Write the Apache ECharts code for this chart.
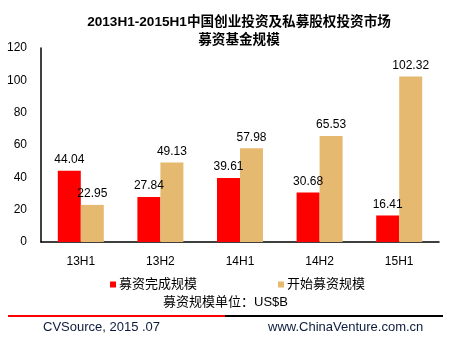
<!DOCTYPE html>
<html><head><meta charset="utf-8">
<script src="https://cdn.jsdelivr.net/npm/echarts@6/dist/echarts.min.js"></script>
<style>html,body{margin:0;padding:0;background:#fff}#c{width:451px;height:340px}</style>
</head><body><div id="c"></div>
<script>
const categories = ['13H1','13H2','14H1','14H2','15H1'];
const completed = [44.04, 27.84, 39.61, 30.68, 16.41];
const started = [22.95, 49.13, 57.98, 65.53, 102.32];
const seriesNames = ['募资完成规模','开始募资规模'];
const yTicks = [0, 20, 40, 60, 80, 100, 120];

const FONT = 'Arial, "Liberation Sans", "Noto Sans CJK SC", sans-serif';
const chart = echarts.init(document.getElementById('c'));
chart.setOption({
  backgroundColor: '#fff',
  animation: false,
  title: {
    text: '2013H1-2015H1中国创业投资及私募股权投资市场\n募资基金规模',
    left: 234, top: 8, textAlign: 'center',
    textStyle: { fontFamily: FONT, fontWeight: 'bold', fontSize: 13.6, lineHeight: 18, color: '#000' }
  },
  legend: [
    { data: [seriesNames[0]], left: 105, top: 273, icon: 'rect', itemWidth: 6, itemHeight: 6, itemGap: 3,
      textStyle: { fontFamily: FONT, fontSize: 13, color: '#000', padding: [0,0,0,-2] } },
    { data: [seriesNames[1]], left: 273, top: 273, icon: 'rect', itemWidth: 6, itemHeight: 6, itemGap: 3,
      textStyle: { fontFamily: FONT, fontSize: 13, color: '#000', padding: [0,0,0,-2] } }
  ],
  grid: { left: 41, right: 12, top: 48, bottom: 98, containLabel: false },
  xAxis: {
    type: 'category', data: categories,
    axisLine: { lineStyle: { color: '#000', width: 1.5 } },
    axisTick: { show: false },
    axisLabel: { fontFamily: FONT, fontSize: 12, color: '#000', margin: 14 }
  },
  yAxis: {
    type: 'value', min: yTicks[0], max: yTicks[yTicks.length-1], interval: 20,
    axisLine: { show: true, lineStyle: { color: '#000', width: 1.5 } },
    axisTick: { show: false },
    splitLine: { show: false },
    axisLabel: { fontFamily: FONT, fontSize: 12, color: '#000', margin: 14 }
  },
  series: [
    { name: seriesNames[0], type: 'bar', data: completed, barWidth: 23, barGap: '0%',
      itemStyle: { color: '#FF0000' },
      label: { show: true, position: 'top', distance: 5, fontFamily: FONT, fontSize: 12, color: '#000', formatter: p => p.value.toFixed(2) } },
    { name: seriesNames[1], type: 'bar', data: started, barWidth: 23, barGap: '0%',
      itemStyle: { color: '#E5B96F' },
      label: { show: true, position: 'top', distance: 5, fontFamily: FONT, fontSize: 12, color: '#000', formatter: p => p.value.toFixed(2) } }
  ],
  graphic: [
    { type: 'text', left: 'center', top: 296, style: { text: '募资规模单位：US$B', font: '13px ' + FONT, fill: '#000' } },
    { type: 'line', shape: { x1: 8, y1: 316, x2: 225, y2: 316 }, style: { stroke: '#FF0000', lineWidth: 2 } },
    { type: 'line', shape: { x1: 225, y1: 316, x2: 443, y2: 316 }, style: { stroke: '#000', lineWidth: 2 } },
    { type: 'text', left: 43, top: 321, style: { text: 'CVSource, 2015 .07', font: '13px ' + FONT, fill: '#0d1b3d' } },
    { type: 'text', left: 268, top: 321, style: { text: 'www.ChinaVenture.com.cn', font: '13px ' + FONT, fill: '#0d1b3d' } }
  ]
});
</script></body></html>
